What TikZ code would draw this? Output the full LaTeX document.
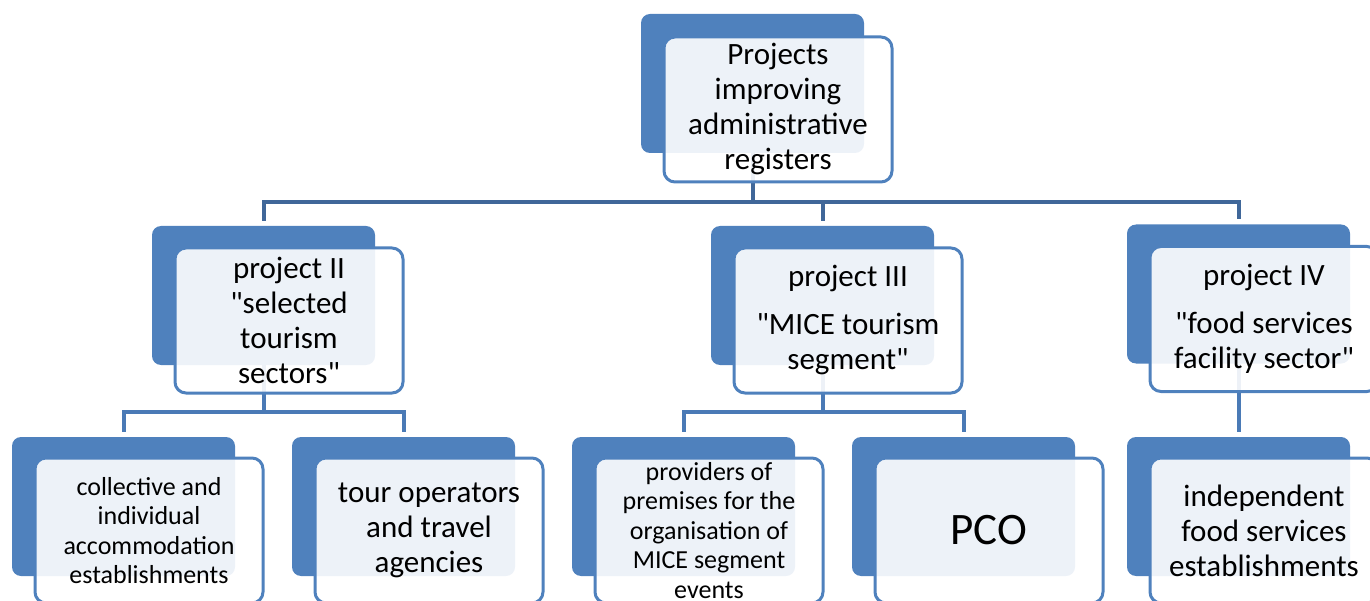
\documentclass[tikz,border=0pt]{standalone}
\usepackage{fontspec}
\setmainfont{Carlito}[Ligatures=TeXOff]
\usepackage{xcolor}
\usepackage{tikz}
\usetikzlibrary{positioning, backgrounds}

\definecolor{boxblue}{RGB}{79,129,189}
\definecolor{linkdark}{RGB}{64,103,153}
\definecolor{linkmid}{RGB}{74,122,182}

\begin{document}
\begin{tikzpicture}[
    x=1pt, y=-1pt,
    back/.style={
        fill=boxblue, rounded corners=9pt,
        minimum width=223pt, minimum height=139pt, inner sep=0pt,
    },
    front/.style={
        draw=boxblue, line width=3pt, rounded corners=11pt,
        fill=white, fill opacity=0.9, text opacity=1,
        minimum width=228pt, minimum height=145pt, align=center,
        inner sep=2pt, font=\fontsize{31}{35}\selectfont,
    },
    smalltxt/.style={font=\fontsize{26}{29.5}\selectfont},
    bigtxt/.style={font=\fontsize{45}{50}\selectfont},
    link/.style={draw=linkdark, line width=4pt},
    sublink/.style={draw=linkmid, line width=4pt},
]
\useasboundingbox (0,0) rectangle (1370,601);
\clip (0,0) rectangle (1370,601);

% -- top level ------------------------------------------------------
\node[back] (top) at (752.5, 83.5) {};
\node[front] (topf) at ([shift={(25.5,26)}]top.center)
    {Projects\\improving\\administrative\\registers};

% -- projects row ---------------------------------------------------
\node[back] (pII)  at (263.5, 295.5) {};
\node[back] (pIII) at (822.5, 295.5) {};
\node[back] (pIV)  at (1238.5, 294) {};

\node[front] (pIIf) at ([shift={(25.5,25)}]pII.center)
    {project II\\"selected\\tourism\\sectors"};
\node[front] (pIIIf) at ([shift={(25.5,25)}]pIII.center)
    {project III\\[13pt]"MICE tourism\\segment"};
\node[front] (pIVf) at ([shift={(25.5,25)}]pIV.center)
    {project IV\\[13pt]"food services\\facility sector"};

% -- registers row --------------------------------------------------
\node[back] (acc)  at (123.5, 506.5) {};
\node[back] (tour) at (403.5, 506.5) {};
\node[back] (prem) at (683.5, 506.5) {};
\node[back] (pco)  at (963.5, 506.5) {};
\node[back] (food) at (1238.5, 506.5) {};

\node[front, smalltxt] (accf) at ([shift={(25.5,24)}]acc.center)
    {collective and\\individual\\accommodation\\establishments};
\node[front] (tourf) at ([shift={(25.5,24)}]tour.center)
    {tour operators\\and travel\\agencies};
\node[front, smalltxt] (premf) at ([shift={(25.5,24)}]prem.center)
    {providers of\\premises for the\\organisation of\\MICE segment\\events};
\node[front, bigtxt] (pcof) at ([shift={(25.5,24)}]pco.center) {PCO};
\node[front] (foodf) at ([shift={(25.5,24)}]food.center)
    {independent\\food services\\establishments};

% -- connectors, kept behind the boxes ------------------------------
\begin{pgfonlayer}{background}
\coordinate (hubTop) at (752.5, 202);
\coordinate (hubII)  at (263.5, 412);
\coordinate (hubIII) at (822.5, 412);

\draw[link, shorten <=5pt, shorten >=5pt] (pII.north) |- (hubTop) -| (pIV.north);
\draw[link, shorten >=5pt] (top.south) -- (hubTop) -| (pIII.north);

\draw[sublink] (pII.south) -- (hubII);
\draw[sublink, shorten <=5pt, shorten >=5pt] (acc.north) |- (hubII) -| (tour.north);
\draw[sublink] (pIII.south) -- (hubIII);
\draw[sublink, shorten <=5pt, shorten >=5pt] (prem.north) |- (hubIII) -| (pco.north);
\draw[sublink, shorten >=5pt] (pIV.south) -- (food.north);
\end{pgfonlayer}

\end{tikzpicture}
\end{document}
